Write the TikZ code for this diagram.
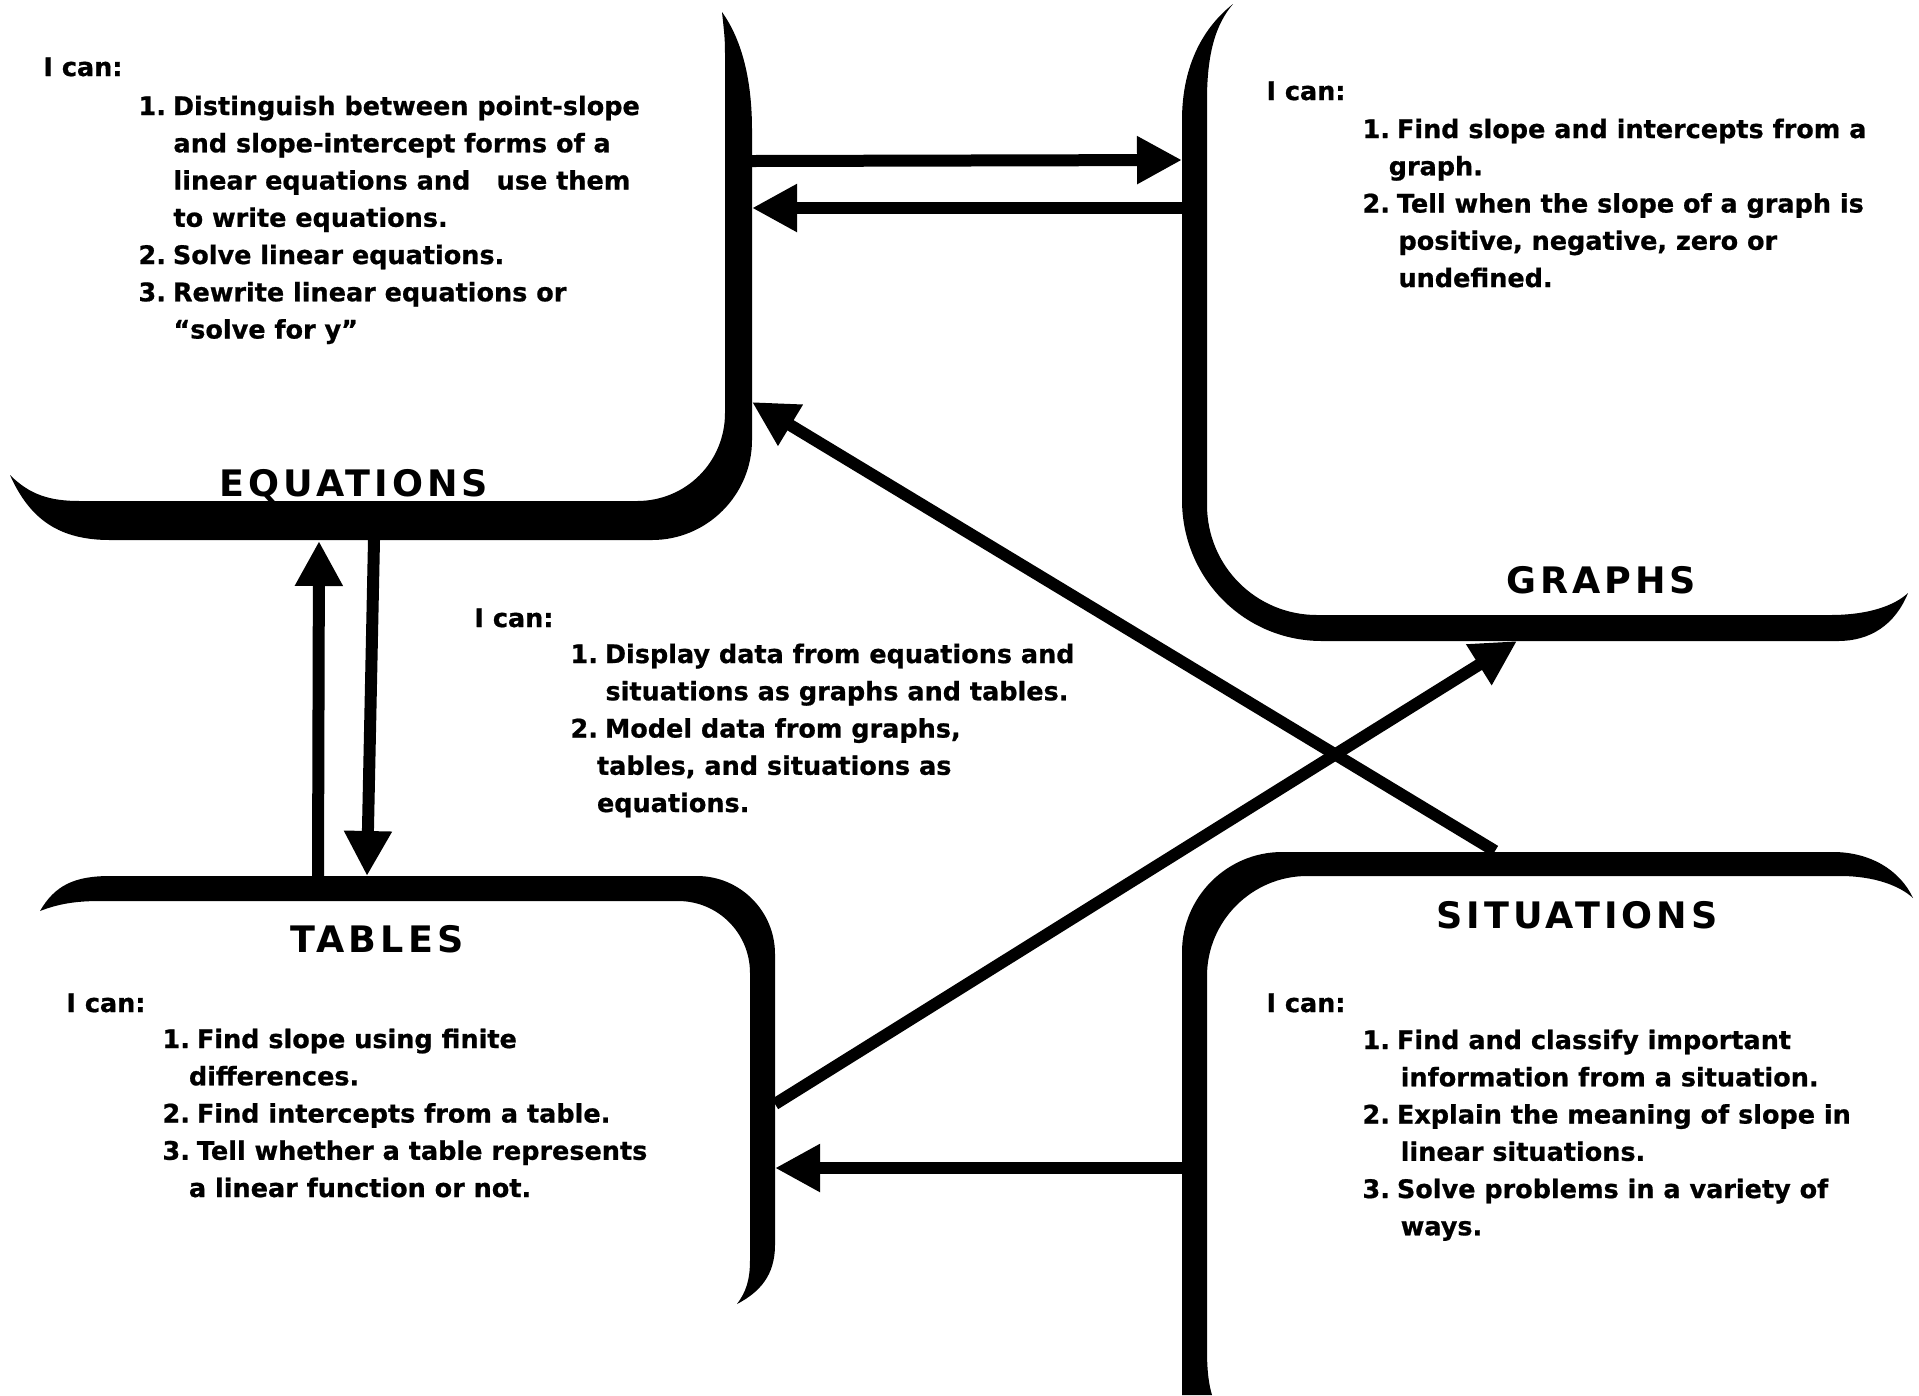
\documentclass[tikz,border=0pt]{standalone}
\usepackage{fontspec}
\setmainfont{DejaVu Sans}[BoldFeatures={FakeBold=0.8}]
\newfontfamily\headfont[LetterSpace=11]{DejaVu Sans}
\usetikzlibrary{arrows.meta}

\newcommand{\listfont}{\bfseries\fontsize{10.2}{14.9}\selectfont}
\newcommand{\headsize}{\headfont\bfseries\fontsize{14.6}{16}\selectfont}
\newcommand{\itab}[1]{\begin{tabular}[t]{@{}l@{}}#1\end{tabular}}
\newcommand{\itm}[1]{#1.\hspace{2.8pt}}

\tikzset{
  band/.style={fill=black},
  link/.style={line width=4.8pt, -{Triangle[length=18pt,width=18pt]}},
  ican/.style={anchor=base west, inner sep=0pt, font=\listfont},
  ilist/.style={anchor=base west, inner sep=0pt, font=\listfont},
  boxtitle/.style={anchor=base, inner sep=0pt, font=\headsize},
}

\begin{document}
\begin{tikzpicture}[x=0.4pt, y=-0.4pt]
  \useasboundingbox (0,0) rectangle (1919,1395);
  % equations
  \fill[band] (722,12) .. controls (742,40) and (752,80) .. (752,130)
    -- (752,440) .. controls (752,495) and (707,540) .. (652,540)
    -- (110,540) .. controls (60,540) and (30,520) .. (10,475)
    .. controls (30,495) and (50,501) .. (80,501)
    -- (637,501) .. controls (686,501) and (725,462) .. (725,413)
    -- (725,60) .. controls (725,40) .. (722,12) -- cycle;
  % graphs
  \fill[band] (1233,4) .. controls (1200,30) and (1182,70) .. (1182,120)
    -- (1182,500) .. controls (1182,578) and (1244,641) .. (1322,641)
    -- (1838,641) .. controls (1870,641) and (1895,625) .. (1908,593)
    .. controls (1895,605) and (1870,615) .. (1830,615)
    -- (1317,615) .. controls (1256,615) and (1207,566) .. (1207,505)
    -- (1207,100) .. controls (1207,55) and (1215,25) .. (1233,4) -- cycle;
  % tables
  \fill[band] (40,911) .. controls (55,885) and (75,876) .. (110,876)
    -- (697,876) .. controls (740,876) and (775,911) .. (775,954)
    -- (775,1245) .. controls (775,1275) and (760,1292) .. (737,1304)
    .. controls (746,1292) and (750,1280) .. (750,1260)
    -- (750,973) .. controls (750,933) and (718,901) .. (678,901)
    -- (100,901) .. controls (75,901) and (58,904) .. (40,911) -- cycle;
  % situations
  \fill[band] (1182,1395) -- (1182,952) .. controls (1182,897) and (1227,852) .. (1282,852)
    -- (1833,852) .. controls (1870,852) and (1900,870) .. (1913,898)
    .. controls (1900,886) and (1875,876) .. (1840,876)
    -- (1307,876) .. controls (1252,876) and (1207,921) .. (1207,976)
    -- (1207,1350) .. controls (1207,1372) and (1209,1385) .. (1212,1395) -- cycle;

  % ends of the arrows
  \coordinate (eqA) at (752,161);  \coordinate (grA) at (1182,160);
  \coordinate (grB) at (1182,208); \coordinate (eqB) at (752,208);
  \coordinate (taA) at (318,876);  \coordinate (eqC) at (319,541);
  \coordinate (eqD) at (374,540);  \coordinate (taB) at (367,876);
  \coordinate (siA) at (1182,1168); \coordinate (taC) at (775,1168);
  \coordinate (taD) at (775,1104); \coordinate (grC) at (1517,641);
  \coordinate (siB) at (1495,851); \coordinate (eqE) at (752,402);

  \draw[link] (eqA) -- (grA);
  \draw[link] (grB) -- (eqB);
  \draw[link] (taA) -- (eqC);
  \draw[link] (eqD) -- (taB);
  \draw[link] (siA) -- (taC);
  \draw[link] (taD) -- (grC);
  \draw[link] (siB) -- (eqE);

  % equations text
  \node[ican] (eqcan) at (43,76) {I can:};
  \node[ilist] (eqlist) at (138,115) {\itab{%
    \itm{1}Distinguish between point-slope\\
    \hspace*{14pt}and slope-intercept forms of a\\
    \hspace*{14pt}linear equations and\hspace{7pt} use them\\
    \hspace*{14pt}to write equations.\\
    \itm{2}Solve linear equations.\\
    \itm{3}Rewrite linear equations or\\
    \hspace*{14pt}“solve for y”}};
  \node[boxtitle] (eqtitle) at (354,496) {EQUATIONS};

  % graphs text
  \node[ican] (grcan) at (1266,100) {I can:};
  \node[ilist] (grlist) at (1362,138) {\itab{%
    \itm{1}Find slope and intercepts from a\\
    \hspace*{10.5pt}graph.\\
    \itm{2}Tell when the slope of a graph is\\
    \hspace*{14.4pt}positive, negative, zero or\\
    \hspace*{14.4pt}undefined.}};
  \node[boxtitle] (grtitle) at (1601,593) {GRAPHS};

  % middle text
  \node[ican] (midcan) at (474,627) {I can:};
  \node[ilist] (midlist) at (570,663) {\itab{%
    \itm{1}Display data from equations and\\
    \hspace*{14pt}situations as graphs and tables.\\
    \itm{2}Model data from graphs,\\
    \hspace*{10.6pt}tables, and situations as\\
    \hspace*{10.6pt}equations.}};

  % tables text
  \node[boxtitle] (tatitle) at (377,952) {TABLES};
  \node[ican] (tacan) at (66,1012) {I can:};
  \node[ilist] (talist) at (162,1048) {\itab{%
    \itm{1}Find slope using finite\\
    \hspace*{10.6pt}differences.\\
    \itm{2}Find intercepts from a table.\\
    \itm{3}Tell whether a table represents\\
    \hspace*{10.6pt}a linear function or not.}};

  % situations text
  \node[boxtitle] (sititle) at (1577,928) {SITUATIONS};
  \node[ican] (sican) at (1266,1012) {I can:};
  \node[ilist] (silist) at (1362,1049) {\itab{%
    \itm{1}Find and classify important\\
    \hspace*{15.3pt}information from a situation.\\
    \itm{2}Explain the meaning of slope in\\
    \hspace*{15.3pt}linear situations.\\
    \itm{3}Solve problems in a variety of\\
    \hspace*{15.3pt}ways.}};
\end{tikzpicture}
\end{document}
